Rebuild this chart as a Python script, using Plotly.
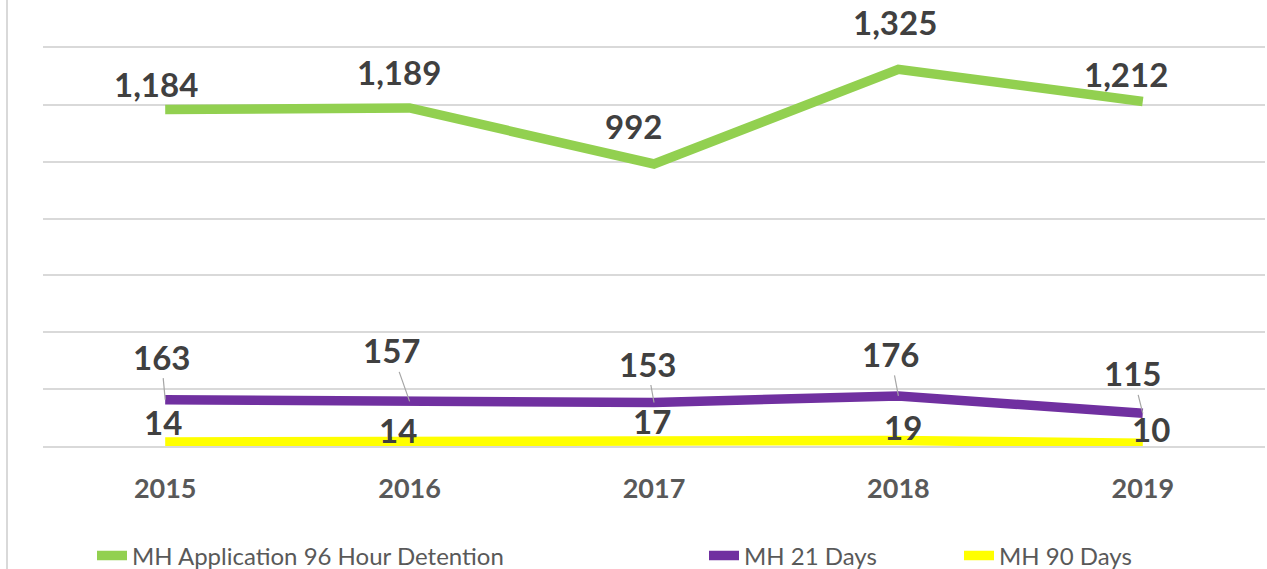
import plotly.graph_objects as go

years = ["2015", "2016", "2017", "2018", "2019"]
detention_96h = [1184, 1189, 992, 1325, 1212]
days_21 = [163, 157, 153, 176, 115]
days_90 = [14, 14, 17, 19, 10]
series_names = ["MH Application 96 Hour Detention", "MH 21 Days", "MH 90 Days"]
y_ticks = [0, 200, 400, 600, 800, 1000, 1200, 1400]

# label offsets in pixels (dx, dy) relative to the point
off_96h = [(-9, -25), (-11, -36), (-21, -38), (-3, -47), (-17, -27)]
off_21 = [(-4, -43), (-18, -51), (-7, -39), (-8, -42), (-10, -40)]
off_90 = [(-2, -20), (-12, -12), (-2, -20), (5, -14), (8, -14)]

colors = ["#92d050", "#7030a0", "#ffff00"]
FONT = "Lato"
W, H = 1267, 569
L, R, T, B = 43, 2, 48, 123
pw = W - L - R
ph = H - T - B

fig = go.Figure()
series = [detention_96h, days_21, days_90]
legend_ids = ["legend", "legend2", "legend3"]
for name, vals, col, lg in zip(series_names, series, colors, legend_ids):
    fig.add_trace(go.Scatter(x=years, y=vals, mode="lines", name=name,
                             line=dict(color=col, width=9.5), legend=lg,
                             hoverinfo="skip"))

label_font = dict(family=FONT, size=33, color="#404040", weight="bold")
annotations = []
for vals, offs, leader in [(detention_96h, off_96h, False), (days_21, off_21, True), (days_90, off_90, False)]:
    for i, (v, (dx, dy)) in enumerate(zip(vals, offs)):
        txt = f"{v:,}"
        if leader:
            annotations.append(dict(x=i, y=v, xref="x", yref="y", text=txt, showarrow=True,
                                    ax=dx, ay=dy, arrowhead=0, arrowwidth=1.2, arrowcolor="#a6a6a6",
                                    standoff=0, font=label_font))
        else:
            annotations.append(dict(x=i, y=v, xref="x", yref="y", text=txt, showarrow=False,
                                    xshift=dx, yshift=-dy, font=label_font))

def px_x(p):
    return (p - L) / pw

def px_y(p):
    return (H - B - p) / ph

leg_font = dict(family=FONT, size=24, color="#595959")
legend_text_starts = [133, 745, 1000]
legend_cfg = {}
for lg, xs in zip(legend_ids, legend_text_starts):
    legend_cfg[lg] = dict(x=px_x(xs - 41), y=px_y(556), xanchor="left", yanchor="middle",
                          orientation="h", font=leg_font, bgcolor="rgba(0,0,0,0)",
                          borderwidth=0, itemwidth=30)

fig.update_layout(
    width=W, height=H,
    margin=dict(l=L, r=R, t=T, b=B, pad=0, autoexpand=False),
    paper_bgcolor="white", plot_bgcolor="white",
    showlegend=True,
    xaxis=dict(type="category", range=[-0.5, 4.5], showgrid=False, zeroline=False,
               showline=True, mirror=True, linecolor="#d9d9d9", linewidth=1.5,
               ticks="", ticklen=0,
               tickfont=dict(family=FONT, size=27, color="#595959", weight="bold"),
               fixedrange=True),
    yaxis=dict(range=[0, 1400], tickvals=y_ticks, showticklabels=False, showgrid=True,
               gridcolor="#d9d9d9", gridwidth=1.5, zeroline=False, showline=False,
               fixedrange=True),
    annotations=annotations,
    shapes=[dict(type="line", xref="paper", yref="paper", x0=px_x(7), x1=px_x(7),
                 y0=px_y(0), y1=px_y(H), line=dict(color="#d9d9d9", width=2))],
    **legend_cfg,
)
fig.update_xaxes(ticklabelstandoff=18)

fig.write_html("out.html", config={"displayModeBar": False},
               post_script="document.body.style.margin='0';document.body.style.overflow='hidden';")
